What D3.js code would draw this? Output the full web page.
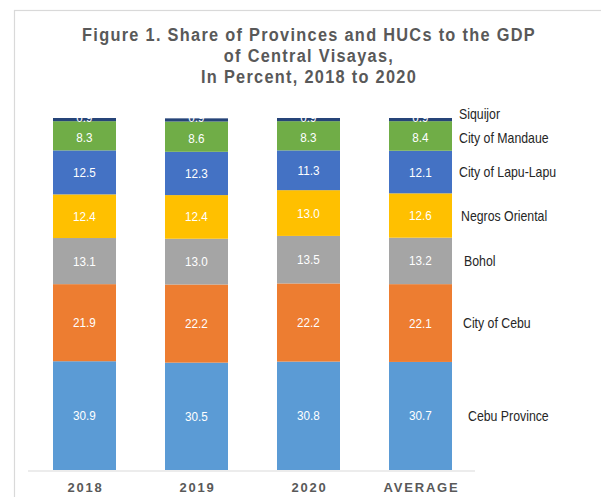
<!DOCTYPE html>
<html><head><meta charset="utf-8">
<script src="https://cdn.jsdelivr.net/npm/d3@7"></script>
<style>
body{margin:0;background:#fff;}
svg{display:block;}
</style></head>
<body><svg id="c" width="601" height="497"></svg>
<script>
const categories = ["2018","2019","2020","AVERAGE"];
const seriesNames = ["Cebu Province","City of Cebu","Bohol","Negros Oriental","City of Lapu-Lapu","City of Mandaue","Siquijor"];
const cebuProvince = [30.9,30.5,30.8,30.7];
const cityOfCebu = [21.9,22.2,22.2,22.1];
const bohol = [13.1,13.0,13.5,13.2];
const negrosOriental = [12.4,12.4,13.0,12.6];
const lapuLapu = [12.5,12.3,11.3,12.1];
const mandaue = [8.3,8.6,8.3,8.4];
const siquijor = [0.9,0.9,0.9,0.9];
const colors = ["#5B9BD5","#ED7D31","#A5A5A5","#FFC000","#4472C4","#70AD47","#264478"];
const titleLines = ["Figure 1. Share of Provinces and HUCs to the GDP","of Central Visayas,","In Percent, 2018 to 2020"];

const seriesVals = [cebuProvince,cityOfCebu,bohol,negrosOriental,lapuLapu,mandaue,siquijor];
const rows = categories.map((c,i)=>{const o={cat:c}; seriesNames.forEach((s,j)=>o[s]=seriesVals[j][i]); return o;});
const stack = d3.stack().keys(seriesNames)(rows);

const svg = d3.select("#c");
// frame
svg.append("rect").attr("x",14.5).attr("y",10.5).attr("width",620).attr("height",520)
  .attr("fill","none").attr("stroke","#d9d9d9").attr("stroke-width",1.2);

const font = "'Liberation Sans',Arial,sans-serif";
svg.append("g").selectAll("text").data(titleLines).join("text")
  .attr("transform",(d,i)=>`translate(309,${41+i*21}) scale(0.86,1)`)
  .attr("text-anchor","middle").attr("font-family",font).attr("font-weight","bold")
  .attr("font-size",19).attr("letter-spacing",1.5).attr("fill","#595959").text(d=>d);

const x = d3.scaleBand().domain(categories).range([25,480]).paddingInner(0.4375).paddingOuter(0.25);
const y = d3.scaleLinear().domain([0,100]).range([470,118]);

const g = svg.append("g");
stack.forEach((layer,j)=>{
  g.append("g").selectAll("rect").data(layer).join("rect")
    .attr("x",d=>x(d.data.cat)).attr("width",x.bandwidth())
    .attr("y",d=>y(d[1])).attr("height",d=>y(d[0])-y(d[1]))
    .attr("fill",colors[j]);
});
stack.forEach((layer,j)=>{
  g.append("g").selectAll("text").data(layer).join("text")
    .attr("transform",d=>`translate(${x(d.data.cat)+x.bandwidth()/2},${j===6 ? y(d[1])+4 : (j===5 ? y((d[0]+d[1])/2)+6 : y((d[0]+d[1])/2)+4.5)}) scale(0.9,1)`)
    .attr("text-anchor","middle").attr("font-family",font)
    .attr("font-size",13).attr("fill","#fff")
    .text(d=>(d[1]-d[0]).toFixed(1));
});

// axis
const axis = d3.axisBottom(x).tickSize(0).tickPadding(12);
svg.append("line").attr("x1",28).attr("x2",475).attr("y1",471).attr("y2",471).attr("stroke","#d9d9d9").attr("stroke-width",1.2);
const ax = svg.append("g").attr("transform","translate(1,471)").call(axis);
ax.select(".domain").remove();
ax.selectAll("text").attr("font-family",font).attr("font-weight","bold")
  .attr("font-size",13).attr("letter-spacing",1.8).attr("fill","#595959");

// legend labels near average bar
const avgIdx = 3;
const labelOffsets = [0,0,0,0,0,2,-6];
const labelX = [468,463,464,461,459,459,459];
svg.append("g").selectAll("text").data(stack).join("text")
  .attr("transform",(d,j)=>`translate(${labelX[j]},${y((d[avgIdx][0]+d[avgIdx][1])/2)+5+labelOffsets[j]}) scale(0.88,1)`)
  .attr("font-family",font).attr("font-size",14).attr("fill","#262626")
  .text(d=>d.key);
</script></body></html>
